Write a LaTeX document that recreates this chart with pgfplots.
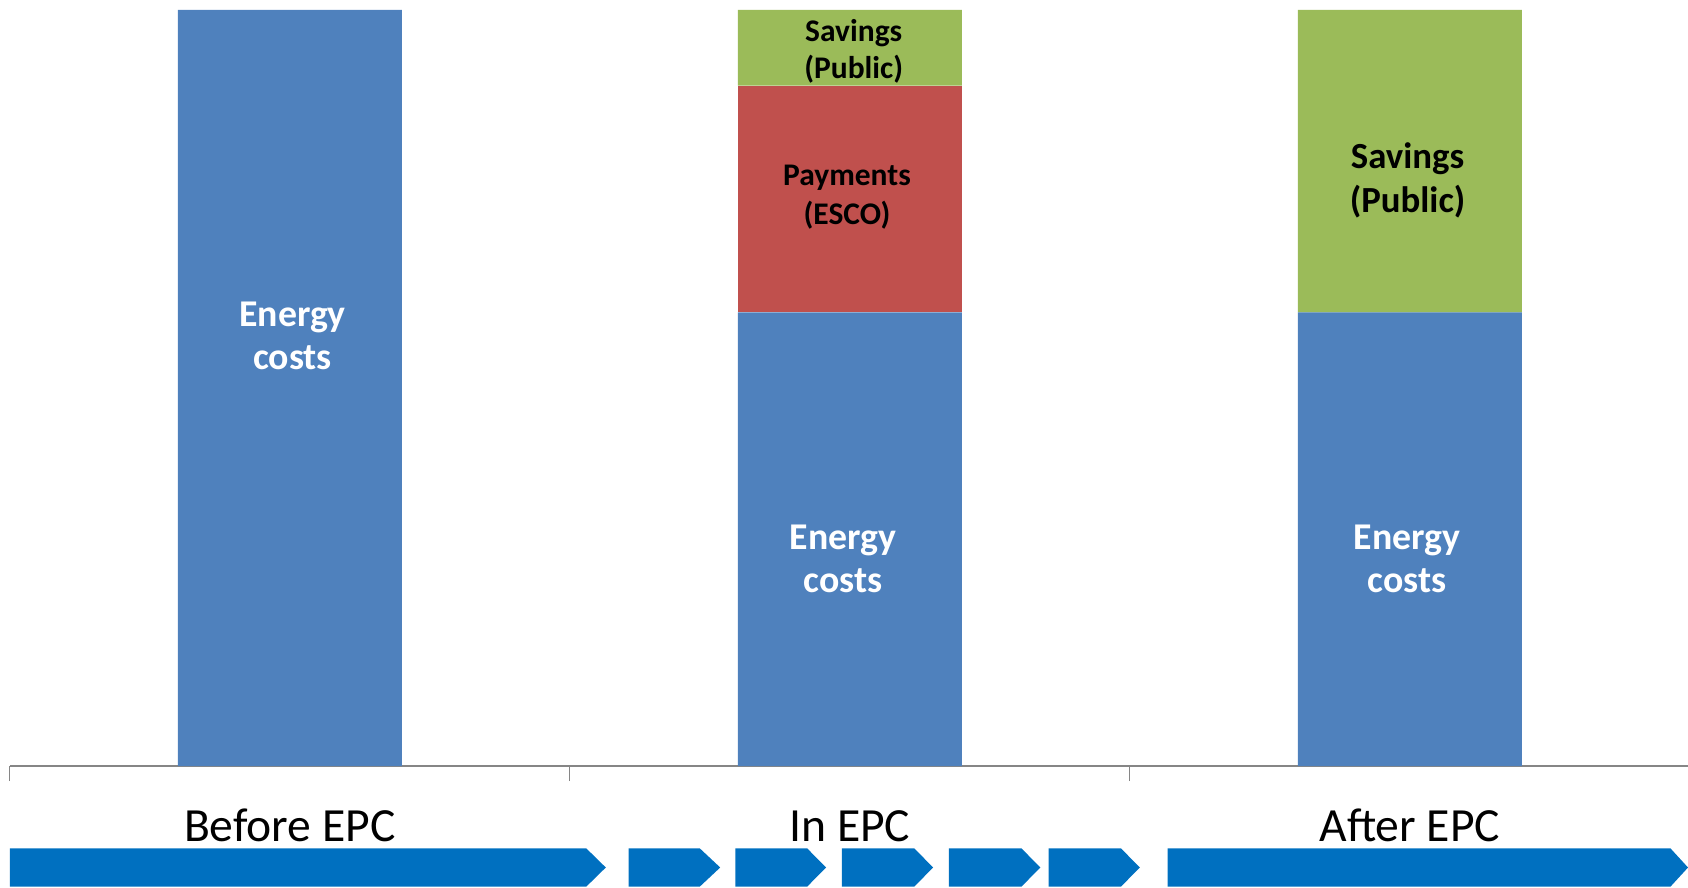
\documentclass[border=0pt]{standalone}
\usepackage{pgfplots}
\pgfplotsset{compat=1.18}
\usepackage{fontspec}
\setmainfont{Carlito}

\definecolor{barblue}{HTML}{4F81BD}
\definecolor{barred}{HTML}{C0504D}
\definecolor{bargreen}{HTML}{9BBB59}
\definecolor{arrowblue}{HTML}{0070C0}
\definecolor{axisgray}{HTML}{868686}

\tikzset{
  barlabel/.style={inner sep=0, align=center},
  phaselabel/.style={inner sep=0, anchor=base, yshift=-37.85bp,
                     font=\fontsize{23.8bp}{28bp}\selectfont},
}

\begin{document}
\begin{tikzpicture}
\useasboundingbox (-4.9bp,-61bp) rectangle (839.1bp,383bp);
\begin{axis}[
    at={(0,0)}, anchor=south west,
    scale only axis,
    width=840bp, height=378bp,
    ybar stacked,
    bar width=0.4,
    xmin=-0.5, xmax=2.5,
    ymin=0, ymax=100,
    hide y axis,
    axis x line*=bottom,
    x axis line style={axisgray, line width=0.75bp},
    xtick={-0.5,0.5,1.5,2.5},
    xticklabels={},
    tick align=outside,
    major tick length=7.5bp,
    tick style={axisgray, line width=0.5bp},
    clip=false,
    ]
% energy costs / payments to ESCO / savings kept by public side
\addplot[fill=barblue, draw=none] coordinates {(0,100) (1,60) (2,60)};
\addplot[fill=barred, draw=none] coordinates {(0,0) (1,30) (2,0)};
\addplot[fill=bargreen, draw=none] coordinates {(0,0) (1,10) (2,40)};

% where the labels inside the bars go (drawn after the axis, on top)
\coordinate (e0) at (axis cs:0.005,56.9);
\coordinate (e1) at (axis cs:0.988,27.45);
\coordinate (e2) at (axis cs:1.995,27.45);
\coordinate (p1) at (axis cs:0.995,75.2);
\coordinate (s1) at (axis cs:1.007,94.5);
\coordinate (s2) at (axis cs:1.996,77.4);

% phase labels under the axis
\node[phaselabel] at (axis cs:0,0) {Before EPC};
\node[phaselabel] at (axis cs:1,0) {In EPC};
\node[phaselabel] at (axis cs:2,0) {After EPC};
\end{axis}

\node[barlabel, text=white, font=\fontsize{18.9bp}{21.5bp}\selectfont\bfseries] at (e0) {Energy\\costs};
\node[barlabel, text=white, font=\fontsize{18.9bp}{21.5bp}\selectfont\bfseries] at (e1) {Energy\\costs};
\node[barlabel, text=white, font=\fontsize{18.9bp}{21.5bp}\selectfont\bfseries] at (e2) {Energy\\costs};
\node[barlabel, font=\fontsize{15.75bp}{19.4bp}\selectfont\bfseries] at (p1) {Payments\\(ESCO)};
\node[barlabel, font=\fontsize{15.75bp}{18.3bp}\selectfont\bfseries] at (s1) {Savings\\(Public)};
\node[barlabel, font=\fontsize{18.4bp}{22bp}\selectfont\bfseries] at (s2) {Savings\\(Public)};

% timeline arrows
\foreach \l/\b/\t in {0/288.2/298, 309.4/344.95/355.2, 362.75/398.65/408.1,
                      416.0/452.2/461.65, 469.55/505.8/515.25, 519.35/555.55/565.0,
                      578.85/830.3/839.1}{
  \fill[arrowblue] (\l bp,-41.15bp) -- (\b bp,-41.15bp) -- (\t bp,-50.75bp)
                   -- (\b bp,-60.35bp) -- (\l bp,-60.35bp) -- cycle;
}
\end{tikzpicture}
\end{document}
